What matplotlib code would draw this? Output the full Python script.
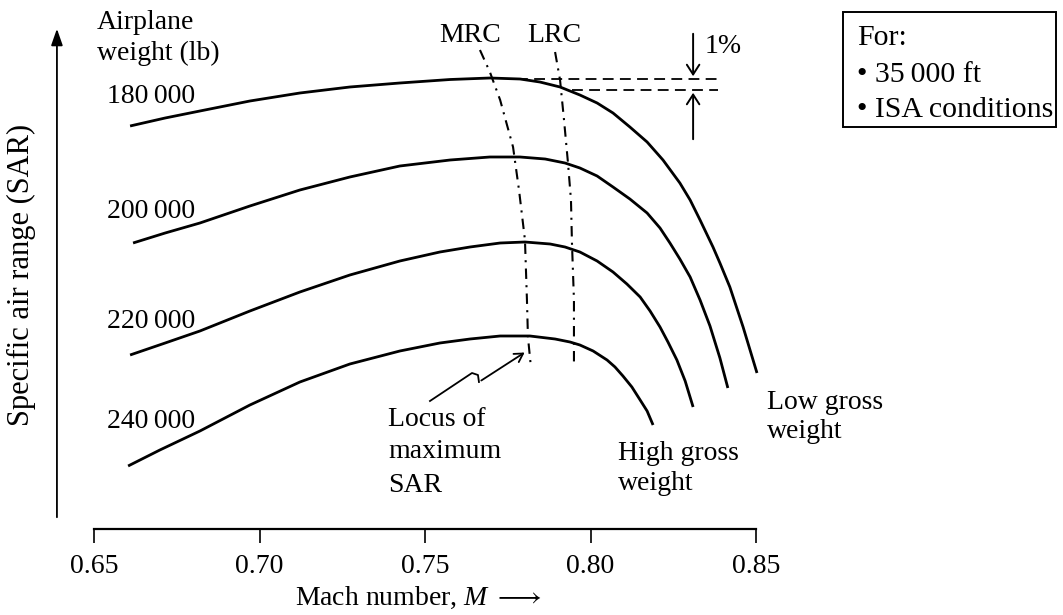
import matplotlib
matplotlib.use("Agg")
import matplotlib.pyplot as plt
from matplotlib.patches import Rectangle

plt.rcParams['font.family'] = ['Liberation Serif', 'DejaVu Serif']
plt.rcParams['mathtext.fontset'] = 'custom'
plt.rcParams['mathtext.rm'] = 'Liberation Serif'
plt.rcParams['mathtext.it'] = 'Liberation Serif:italic'

# SAR curves (arbitrary SAR units) vs Mach, one per airplane weight
weights = ['180\u2009000', '200\u2009000', '220\u2009000', '240\u2009000']

mach_180 = [0.6609, 0.6715, 0.6820, 0.6971, 0.7122, 0.7273, 0.7424, 0.7576, 0.7696, 0.7787, 0.7847,
            0.7908, 0.7968, 0.8020, 0.8068, 0.8119, 0.8171, 0.8219, 0.8270, 0.8301, 0.8331, 0.8370,
            0.8391, 0.8421, 0.8461, 0.8503]
sar_180 = [80.6, 82.2, 83.6, 85.6, 87.2, 88.4, 89.2, 89.9, 90.2, 90.0, 89.4,
           88.4, 86.8, 85.2, 83.2, 80.4, 77.4, 73.8, 69.2, 65.8, 61.8, 56.4,
           53.2, 48.4, 40.4, 31.2]

mach_200 = [0.6618, 0.6715, 0.6820, 0.6971, 0.7122, 0.7273, 0.7424, 0.7576, 0.7696, 0.7787, 0.7863,
            0.7923, 0.7968, 0.8020, 0.8068, 0.8119, 0.8171, 0.8210, 0.8240, 0.8270, 0.8301, 0.8331,
            0.8361, 0.8391, 0.8415]
sar_200 = [57.2, 59.2, 61.2, 64.6, 67.8, 70.4, 72.6, 73.8, 74.4, 74.4, 74.0,
           73.2, 72.2, 70.6, 68.4, 66.0, 63.2, 60.2, 57.2, 54.0, 50.4, 45.8,
           40.6, 34.2, 28.2]

mach_220 = [0.6609, 0.6715, 0.6820, 0.6971, 0.7122, 0.7273, 0.7424, 0.7545, 0.7636, 0.7727, 0.7802,
            0.7878, 0.7923, 0.7968, 0.8020, 0.8068, 0.8110, 0.8150, 0.8180, 0.8210, 0.8234, 0.8261,
            0.8286, 0.8310]
sar_220 = [34.8, 37.2, 39.6, 43.6, 47.4, 50.8, 53.6, 55.4, 56.4, 57.2, 57.4,
           57.0, 56.4, 55.4, 53.6, 51.4, 49.0, 46.4, 43.6, 40.4, 37.4, 33.8,
           29.6, 24.4]

mach_240 = [0.6603, 0.6699, 0.6820, 0.6971, 0.7122, 0.7273, 0.7424, 0.7545, 0.7636, 0.7727, 0.7817,
            0.7893, 0.7938, 0.7968, 0.8008, 0.8050, 0.8074, 0.8098, 0.8125, 0.8150, 0.8171, 0.8189]
sar_240 = [12.6, 15.8, 19.6, 24.8, 29.4, 33.0, 35.6, 37.2, 38.0, 38.6, 38.6,
           38.0, 37.4, 36.8, 35.6, 33.8, 32.4, 30.6, 28.4, 25.8, 23.6, 20.8]

# MRC / LRC loci
mach_mrc = [0.7666, 0.7696, 0.7727, 0.7766, 0.7784, 0.7802, 0.7808, 0.7811, 0.7820]
sar_mrc = [95.8, 91.4, 85.8, 76.4, 67.8, 57.8, 45.8, 38.4, 32.4]
mach_lrc = [0.7893, 0.7908, 0.7920, 0.7932, 0.7941, 0.7944, 0.7950, 0.7950]
sar_lrc = [95.4, 89.8, 81.8, 73.2, 65.8, 57.2, 45.8, 33.2]

# 1 % band
sar_band = [90.0, 87.8]
mach_band_start = [0.7778, 0.7944]
mach_band_end = 0.8385
mach_band_arrow = 0.8310

mach_ticks = [0.65, 0.70, 0.75, 0.80, 0.85]

fig = plt.figure(figsize=(10.63, 6.15), dpi=100)
ax = fig.add_axes([0, 0, 1, 1])
ax.set_xlim(0.6216, 0.94275)
ax.set_ylim(-17.2, 105.8)

for m, s in [(mach_180, sar_180), (mach_200, sar_200), (mach_220, sar_220), (mach_240, sar_240)]:
    ax.plot(m, s, color='black', lw=2.0, solid_capstyle='butt', solid_joinstyle='round')

ax.plot(mach_mrc, sar_mrc, color='black', lw=1.5, dashes=(5, 3, 1, 3))
ax.plot(mach_lrc, sar_lrc, color='black', lw=1.5, dashes=(5, 3, 1, 3))

for s, m0 in zip(sar_band, mach_band_start):
    ax.plot([m0, mach_band_end], [s, s], color='black', lw=1.3, dashes=(6, 3.5))

arrow_kw = dict(arrowstyle='->,head_length=0.7,head_width=0.45', lw=1.4, color='black')
ax.annotate('', xy=(mach_band_arrow, sar_band[0]), xytext=(mach_band_arrow, 99.6), arrowprops=arrow_kw)
ax.annotate('', xy=(mach_band_arrow, sar_band[1]), xytext=(mach_band_arrow, 77.4), arrowprops=arrow_kw)
ax.text(0.8346, 95.2, '1%', fontsize=20, ha='left', va='baseline')

# axes
for sp in ['left', 'right', 'top']:
    ax.spines[sp].set_visible(False)
ax.spines['bottom'].set_position(('data', 0))
ax.spines['bottom'].set_bounds(0.65, 0.85)
ax.spines['bottom'].set_linewidth(1.6)
ax.set_xticks(mach_ticks)
ax.set_xticklabels([f'{t:.2f}' for t in mach_ticks])
ax.tick_params(axis='x', direction='out', length=10, width=1.2, pad=8, labelsize=20)
ax.set_yticks([])

ax.annotate('', xy=(0.6388, 100.6), xytext=(0.6388, 1.8),
            arrowprops=dict(arrowstyle='-|>,head_length=1.0,head_width=0.35', lw=1.3, color='black'))
ax.text(0.6282, 50.8, 'Specific air range (SAR)', rotation=90, fontsize=22,
        ha='center', va='center')
ax.text(0.7479, -13.8, 'Mach number, $M$ $\\longrightarrow$', fontsize=20, ha='center', va='center')

# weight labels
ax.text(0.6509, 100.0, 'Airplane', fontsize=20, ha='left', va='baseline')
ax.text(0.6509, 93.8, 'weight (lb)', fontsize=20, ha='left', va='baseline')
for lab, y in zip(weights, [85.2, 62.2, 40.2, 20.2]):
    ax.text(0.6539, y, lab, fontsize=20, ha='left', va='baseline')

ax.text(0.7636, 97.4, 'MRC', fontsize=20, ha='center', va='baseline')
ax.text(0.7890, 97.4, 'LRC', fontsize=20, ha='center', va='baseline')

# locus annotation with zigzag arrow
ax.plot([0.7515, 0.7642, 0.7660, 0.7663], [25.6, 31.2, 30.8, 29.4], color='black', lw=1.3,
        solid_joinstyle='round')
ax.annotate('', xy=(0.7808, 35.6), xytext=(0.7663, 29.4),
            arrowprops=dict(arrowstyle='->,head_length=0.6,head_width=0.35', lw=1.3, color='black'))
for txt, y in zip(['Locus of', 'maximum', 'SAR'], [20.6, 14.2, 7.4]):
    ax.text(0.7388, y, txt, fontsize=20, ha='left', va='baseline')
for txt, y in zip(['High gross', 'weight'], [13.8, 7.8]):
    ax.text(0.8083, y, txt, fontsize=20, ha='left', va='baseline')
for txt, y in zip(['Low gross', 'weight'], [24.0, 18.2]):
    ax.text(0.8533, y, txt, fontsize=20, ha='left', va='baseline')

# conditions box
ax.add_patch(Rectangle((843 / 1063, 1 - 127 / 615), 0.2, 115 / 615, transform=ax.transAxes,
                       fill=False, lw=1.4, edgecolor='black', clip_on=False))
for txt, ypx in zip(['For:', '\u2022 35\u2009000 ft', '\u2022 ISA conditions'], [45, 82, 117]):
    ax.text(857 / 1063, 1 - ypx / 615, txt, fontsize=21.5, ha='left', va='baseline',
            transform=ax.transAxes)

fig.savefig('out.png', dpi=100, facecolor='white')
